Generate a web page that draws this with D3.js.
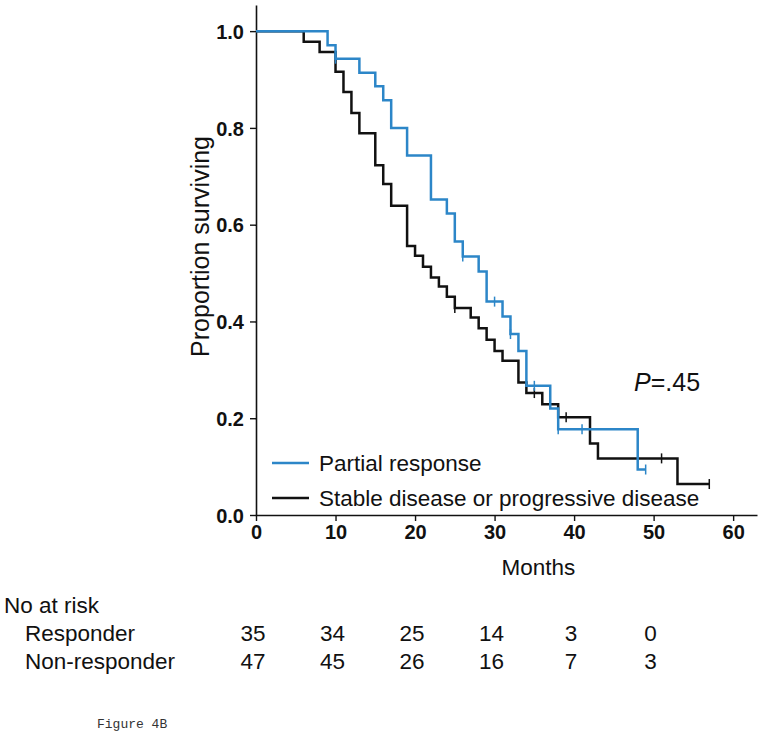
<!DOCTYPE html>
<html>
<head>
<meta charset="utf-8">
<script src="https://cdn.jsdelivr.net/npm/d3@7"></script>
<style>
  body { margin: 0; background: #fff; }
  svg { display: block; }
</style>
</head>
<body>
<div id="chart"></div>
<script>
// Kaplan-Meier steps
const respTimes = [0, 9, 10, 13, 15, 16, 17, 19, 22, 24, 25, 26, 28, 29, 31, 32, 33, 34, 37, 38, 48];
const respSurv = [1.0, 0.971, 0.943, 0.914, 0.886, 0.857, 0.8, 0.743, 0.652, 0.623, 0.565, 0.534, 0.503, 0.441, 0.41, 0.374, 0.339, 0.267, 0.22, 0.177, 0.094];
const respEnd = 49;
const respCensor = [10, 26, 30, 32, 35, 38, 41, 49];

const nonTimes = [0, 6, 8, 10, 11, 12, 13, 15, 16, 17, 19, 20, 21, 22, 23, 24, 25, 27, 28, 29, 30, 31, 33, 34, 36, 38, 42, 43, 53];
const nonSurv = [1.0, 0.978, 0.957, 0.916, 0.874, 0.831, 0.789, 0.723, 0.684, 0.639, 0.556, 0.536, 0.513, 0.491, 0.472, 0.451, 0.428, 0.408, 0.386, 0.362, 0.339, 0.319, 0.274, 0.252, 0.229, 0.202, 0.148, 0.117, 0.064];
const nonEnd = 57;
const nonCensor = [25, 35, 39, 51, 57];

const xTicks = [0, 10, 20, 30, 40, 50, 60];
const yTicks = [0, 0.2, 0.4, 0.6, 0.8, 1.0];
const riskLabels = ["Responder", "Non-responder"];
const riskResp = [35, 34, 25, 14, 3, 0];
const riskNon = [47, 45, 26, 16, 7, 3];

const blue = "#2c86c8";
const dark = "#111111";
const font = "'Liberation Sans', Arial, sans-serif";

const svg = d3.select("#chart").append("svg")
    .attr("width", 764)
    .attr("height", 734)
    .style("font-family", font);

const x = d3.scaleLinear().domain([0, 63]).range([256, 757]);
const y = d3.scaleLinear().domain([0, 1.054]).range([515, 5]);

// Axes
const xAxis = svg.append("g")
    .attr("transform", `translate(0,${y(0)})`)
    .call(d3.axisBottom(x).tickValues(xTicks).tickSize(6).tickSizeOuter(0).tickPadding(4));
const yAxis = svg.append("g")
    .attr("transform", `translate(${x(0)},0)`)
    .call(d3.axisLeft(y).tickValues(yTicks).tickFormat(d3.format(".1f")).tickSize(6).tickSizeOuter(0).tickPadding(6));

[xAxis, yAxis].forEach(g => {
    g.select(".domain").attr("stroke", dark).attr("stroke-width", 1.6);
    g.selectAll(".tick line").attr("stroke", dark).attr("stroke-width", 1.4);
    g.selectAll(".tick text")
        .attr("fill", dark)
        .style("font-family", font)
        .style("font-size", "20px")
        .style("font-weight", "bold");
});
yAxis.selectAll(".tick text").attr("dy", "0.36em");

// Axis titles
svg.append("text")
    .attr("x", x(35.5))
    .attr("y", 575)
    .attr("text-anchor", "middle")
    .style("font-size", "22.5px")
    .attr("fill", dark)
    .text("Months");

svg.append("text")
    .attr("transform", `translate(209,${y(0.555)}) rotate(-90)`)
    .attr("text-anchor", "middle")
    .style("font-size", "25px")
    .attr("fill", dark)
    .text("Proportion surviving");

// Curves
function stepLine(times, surv, end) {
    const pts = times.map((t, i) => [t, surv[i]]);
    pts.push([end, surv[surv.length - 1]]);
    return d3.line().x(d => x(d[0])).y(d => y(d[1])).curve(d3.curveStepAfter)(pts);
}
function levelAt(times, surv, t) {
    const i = d3.bisectRight(times, t) - 1;
    return surv[Math.max(0, i)];
}

const groups = [
    {times: nonTimes, surv: nonSurv, end: nonEnd, censor: nonCensor, color: dark},
    {times: respTimes, surv: respSurv, end: respEnd, censor: respCensor, color: blue}
];

groups.forEach(s => {
    svg.append("path")
        .attr("d", stepLine(s.times, s.surv, s.end))
        .attr("fill", "none")
        .attr("stroke", s.color)
        .attr("stroke-width", 2.5)
        .attr("stroke-linejoin", "miter");

    svg.selectAll(null)
        .data(s.censor)
        .enter().append("line")
        .attr("x1", d => x(d))
        .attr("x2", d => x(d))
        .attr("y1", d => y(levelAt(s.times, s.surv, d)) - 5)
        .attr("y2", d => y(levelAt(s.times, s.surv, d)) + 5)
        .attr("stroke", s.color)
        .attr("stroke-width", 1.5);
});

// P value
const pText = svg.append("text")
    .attr("x", 634)
    .attr("y", 391)
    .style("font-size", "25px")
    .attr("fill", dark);
pText.append("tspan").style("font-style", "italic").text("P");
pText.append("tspan").text("=.45");

// Legend
const legend = [
    {label: "Partial response", color: blue},
    {label: "Stable disease or progressive disease", color: dark}
];
legend.forEach((d, i) => {
    const ly = 463 + i * 35;
    svg.append("line")
        .attr("x1", 272).attr("x2", 309)
        .attr("y1", ly).attr("y2", ly)
        .attr("stroke", d.color)
        .attr("stroke-width", 2.5);
    svg.append("text")
        .attr("x", 319)
        .attr("y", ly + 8)
        .style("font-size", "22.5px")
        .attr("fill", dark)
        .text(d.label);
});

// Number at risk table
svg.append("text")
    .attr("x", 4).attr("y", 613)
    .style("font-size", "22.5px")
    .attr("fill", dark)
    .text("No at risk");

[riskResp, riskNon].forEach((row, r) => {
    const ry = 641 + r * 28;
    svg.append("text")
        .attr("x", 25).attr("y", ry)
        .style("font-size", "22.5px")
        .attr("fill", dark)
        .text(riskLabels[r]);
    svg.selectAll(null)
        .data(row)
        .enter().append("text")
        .attr("x", (d, i) => x(xTicks[i]) - 3)
        .attr("y", ry)
        .attr("text-anchor", "middle")
        .style("font-size", "22.5px")
        .attr("fill", dark)
        .text(d => d);
});

svg.append("text")
    .attr("x", 97).attr("y", 728)
    .style("font-family", "'Liberation Mono', 'Courier New', monospace")
    .style("font-size", "13px")
    .attr("fill", "#333")
    .text("Figure 4B");
</script>
</body>
</html>
